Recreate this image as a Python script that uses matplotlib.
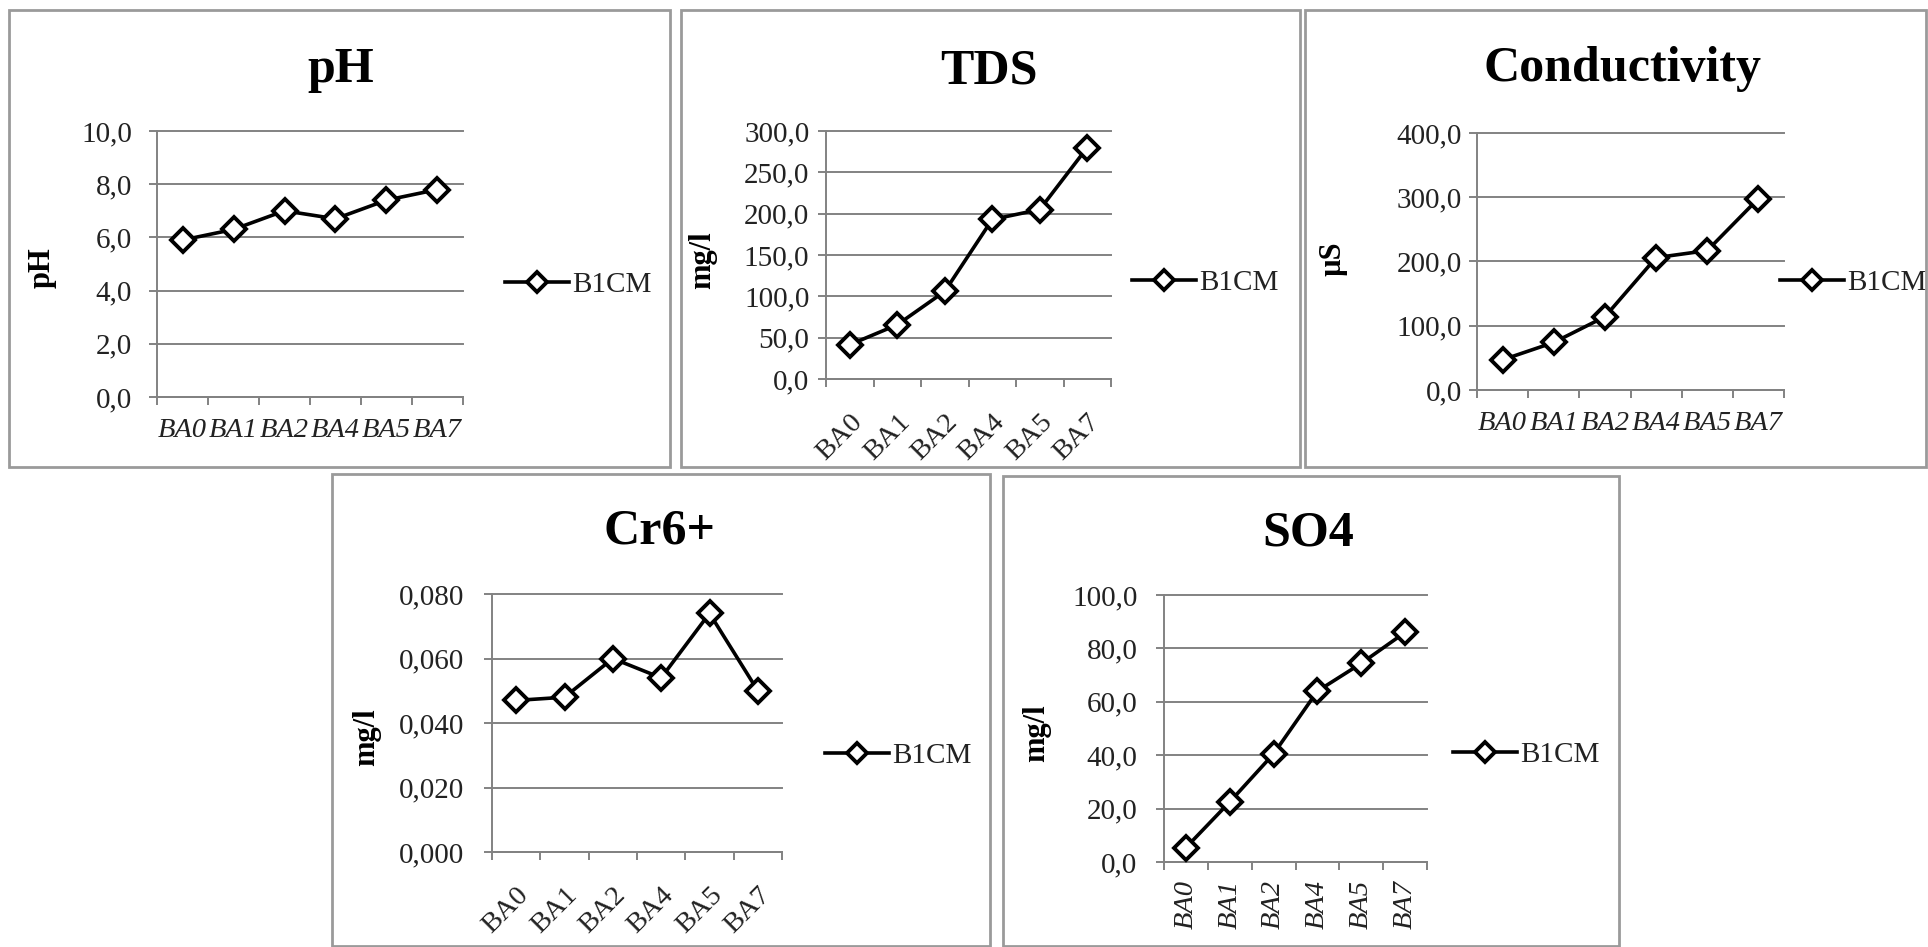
import matplotlib
matplotlib.use('Agg')
import matplotlib.pyplot as plt
from matplotlib.patches import Rectangle

# Pontos de coleta e série medida
pontos = ['BA0', 'BA1', 'BA2', 'BA4', 'BA5', 'BA7']
serie = 'B1CM'

# Valores por parâmetro
ph = [5.9, 6.3, 7.0, 6.7, 7.4, 7.8]
tds = [41.5, 65.6, 106.0, 193.0, 205.0, 280.0]
condutividade = [47.0, 74.0, 114.0, 206.0, 217.0, 298.0]
cr6 = [0.047, 0.048, 0.060, 0.054, 0.074, 0.050]
so4 = [5.4, 22.5, 40.5, 64.0, 74.4, 86.0]

# Escalas do eixo y
ticks_ph = [0, 2, 4, 6, 8, 10]
ticks_tds = [0, 50, 100, 150, 200, 250, 300]
ticks_cond = [0, 100, 200, 300, 400]
ticks_cr6 = [0, 0.02, 0.04, 0.06, 0.08]
ticks_so4 = [0, 20, 40, 60, 80, 100]

W, H = 1928, 947
CINZA = '#828282'
TEXTO = '#222222'

plt.rcParams['font.family'] = ['Liberation Serif', 'DejaVu Serif']


def fx(x):
    return x / W


def fy(y):
    return 1 - y / H


def moldura(fig, x0, y0, x1, y1):
    fig.add_artist(Rectangle((fx(x0), fy(y1)), (x1 - x0) / W, (y1 - y0) / H,
                             transform=fig.transFigure, fill=False,
                             edgecolor='#9a9a9a', linewidth=2))


def grafico(fig, caixa, valores, yticks, casas, titulo, pos_titulo, ylabel,
            pos_ylabel, pos_legenda, rotacao, italico, ypad, xpad):
    x0, y0, x1, y1 = caixa
    ax = fig.add_axes([fx(x0), fy(y1), (x1 - x0) / W, (y1 - y0) / H])

    x = list(range(len(pontos)))
    ax.plot(x, valores, color='black', linewidth=2.6, marker='D', markersize=12,
            markerfacecolor='white', markeredgecolor='black', markeredgewidth=2.8,
            label=serie, clip_on=False, zorder=5)

    ax.set_xlim(-0.5, len(pontos) - 0.5)
    ax.set_ylim(yticks[0], yticks[-1])

    # eixo y com grade cinza e rótulos com vírgula decimal
    ax.set_yticks(yticks)
    ax.set_yticklabels([f'{v:.{casas}f}'.replace('.', ',') for v in yticks])
    ax.yaxis.grid(True, color=CINZA, linewidth=1.4)
    ax.set_axisbelow(True)
    for gl in ax.get_ygridlines():
        gl.set_clip_on(False)
    ax.tick_params(axis='y', length=6, width=1.4, color=CINZA, direction='out',
                   pad=ypad, labelsize=21, labelcolor=TEXTO)

    # marcas do eixo x entre as categorias
    ax.set_xticks(x)
    ax.set_xticks([i - 0.5 for i in range(len(pontos) + 1)], minor=True)
    ax.tick_params(axis='x', which='minor', length=6, width=1.4, color=CINZA,
                   direction='out')
    ax.tick_params(axis='x', which='major', length=0, pad=xpad)
    estilo = 'italic' if italico else 'normal'
    if rotacao == 0:
        ax.set_xticklabels(pontos, fontsize=20.5, style=estilo, color=TEXTO)
    elif rotacao == 45:
        ax.set_xticklabels(pontos, fontsize=20.5, style=estilo, color=TEXTO,
                           rotation=45, ha='right', va='top', rotation_mode='anchor')
    else:
        ax.set_xticklabels(pontos, fontsize=20.5, style=estilo, color=TEXTO,
                           rotation=90, ha='center', va='top')

    for lado in ['top', 'right']:
        ax.spines[lado].set_visible(False)
    for lado in ['left', 'bottom']:
        ax.spines[lado].set_color(CINZA)
        ax.spines[lado].set_linewidth(1.4)

    fig.text(fx(pos_titulo[0]), fy(pos_titulo[1]), titulo, ha='center',
             va='baseline', fontsize=36, fontweight='bold', color='black')

    ax.set_ylabel(ylabel, fontsize=22, fontweight='bold', color='black')
    ax.yaxis.label.set_va('center')
    ax.yaxis.set_label_coords(fx(pos_ylabel[0]), fy(pos_ylabel[1]),
                              transform=fig.transFigure)

    ax.legend(loc='center left', bbox_to_anchor=(fx(pos_legenda[0]), fy(pos_legenda[1])),
              bbox_transform=fig.transFigure, frameon=False, borderpad=0,
              borderaxespad=0, handlelength=2.2, handletextpad=0.12,
              markerscale=0.85, fontsize=21, labelcolor=TEXTO)
    return ax


def main():
    fig = plt.figure(figsize=(W / 100, H / 100), dpi=100)
    fig.patch.set_facecolor('white')

    # molduras de cada gráfico
    moldura(fig, 9, 10, 670, 467)
    moldura(fig, 681, 10, 1300, 467)
    moldura(fig, 1305, 10, 1926, 467)
    moldura(fig, 332, 474, 990, 946)
    moldura(fig, 1003, 476, 1619, 946)

    grafico(fig, (157, 131, 463, 397), ph, ticks_ph, 1, 'pH', (341, 82), 'pH',
            (42, 268), (505, 285), 0, True, 12, 15)
    grafico(fig, (826, 131, 1111, 379), tds, ticks_tds, 1, 'TDS', (989, 84), 'mg/l',
            (703, 260), (1132, 283), 45, False, 6, 22)
    grafico(fig, (1477, 133, 1784, 390), condutividade, ticks_cond, 1, 'Conductivity',
            (1623, 81), 'µS', (1333, 259), (1780, 283), 0, True, 5, 15)
    grafico(fig, (492, 594, 782, 852), cr6, ticks_cr6, 3, 'Cr6+', (659, 544), 'mg/l',
            (367, 737), (825, 756), 45, False, 14, 22)
    grafico(fig, (1164, 595, 1427, 862), so4, ticks_so4, 1, 'SO4', (1308, 546), 'mg/l',
            (1037, 733), (1453, 755), 90, True, 13, 13)

    fig.savefig('out.png', dpi=100, facecolor='white')


if __name__ == '__main__':
    main()
